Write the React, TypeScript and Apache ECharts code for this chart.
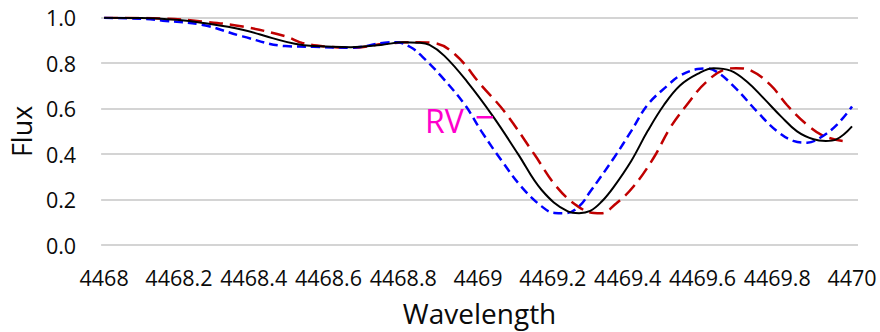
import React, { useEffect, useRef } from "react";
import * as echarts from "echarts";

const xTickValues = [4468, 4468.2, 4468.4, 4468.6, 4468.8, 4469, 4469.2, 4469.4, 4469.6, 4469.8, 4470];
const xTickLabels = ["4468", "4468.2", "4468.4", "4468.6", "4468.8", "4469", "4469.2", "4469.4", "4469.6", "4469.8", "4470"];

const obsWl = [4468.0, 4468.1, 4468.2, 4468.26, 4468.37, 4468.45, 4468.51, 4468.56, 4468.66, 4468.74, 4468.8, 4468.84, 4468.87, 4468.91, 4468.97, 4469.04, 4469.107, 4469.17, 4469.24, 4469.27, 4469.3, 4469.33, 4469.363, 4469.41, 4469.453, 4469.497, 4469.54, 4469.587, 4469.63, 4469.675, 4469.72, 4469.764, 4469.81, 4469.853, 4469.897, 4469.93, 4469.958, 4470.0];
const obsFlux = [1.0, 0.999, 0.99, 0.978, 0.947, 0.91, 0.885, 0.875, 0.87, 0.88, 0.892, 0.89, 0.88, 0.832, 0.72, 0.566, 0.4, 0.242, 0.148, 0.14, 0.15, 0.19, 0.256, 0.371, 0.5, 0.616, 0.702, 0.753, 0.778, 0.767, 0.717, 0.645, 0.566, 0.5, 0.465, 0.458, 0.465, 0.522];

const blueWl = [4468.0, 4468.1, 4468.157, 4468.264, 4468.37, 4468.485, 4468.56, 4468.66, 4468.75, 4468.78, 4468.82, 4468.85, 4468.9, 4468.965, 4469.009, 4469.063, 4469.116, 4469.17, 4469.205, 4469.235, 4469.27, 4469.3, 4469.364, 4469.409, 4469.453, 4469.507, 4469.54, 4469.587, 4469.61, 4469.64, 4469.69, 4469.746, 4469.8, 4469.843, 4469.88, 4469.915, 4469.96, 4470.0];
const blueFlux = [1.0, 0.995, 0.987, 0.968, 0.918, 0.875, 0.872, 0.868, 0.89, 0.892, 0.87, 0.83, 0.745, 0.616, 0.5, 0.371, 0.256, 0.17, 0.141, 0.14, 0.17, 0.235, 0.385, 0.5, 0.616, 0.702, 0.745, 0.774, 0.777, 0.76, 0.688, 0.587, 0.5, 0.458, 0.45, 0.472, 0.53, 0.609];

const redWl = [4468.0, 4468.148, 4468.264, 4468.37, 4468.485, 4468.53, 4468.6, 4468.663, 4468.75, 4468.84, 4468.88, 4468.938, 4469.009, 4469.07, 4469.15, 4469.21, 4469.267, 4469.31, 4469.33, 4469.37, 4469.415, 4469.47, 4469.513, 4469.558, 4469.61, 4469.664, 4469.69, 4469.73, 4469.783, 4469.826, 4469.88, 4469.925, 4469.975];
const redFlux = [1.0, 0.997, 0.983, 0.961, 0.918, 0.889, 0.872, 0.868, 0.885, 0.892, 0.889, 0.839, 0.702, 0.588, 0.4, 0.256, 0.17, 0.141, 0.14, 0.184, 0.256, 0.385, 0.514, 0.616, 0.717, 0.774, 0.778, 0.767, 0.702, 0.616, 0.529, 0.479, 0.458];

const rvLabel = "RV";
const rvTickWl = [4468.996, 4469.04];
const rvTickFlux = 0.562;
const rvTextWl = 4468.962;
const rvTextFlux = 0.548;

const FONT = "'Open Sans', sans-serif";
const TEXT_COLOR = "#0a0a0a";

function zip(a: number[], b: number[]) {
  return a.map((v, i) => [v, b[i]]);
}

export default function App() {
  const ref = useRef<HTMLDivElement>(null);
  useEffect(() => {
    if (!ref.current) return;
    const chart = echarts.init(ref.current, undefined, { renderer: "svg" });
    chart.setOption({
      animation: false,
      backgroundColor: "#ffffff",
      grid: { left: 98, right: 22, top: 17.7, bottom: 82.7, containLabel: false },
      xAxis: {
        type: "value",
        min: 4468 - 3 / 375.5,
        max: 4470 + 6 / 375.5,
        name: "Wavelength",
        nameLocation: "middle",
        nameGap: 54,
        nameTextStyle: { fontFamily: FONT, fontSize: 28, color: TEXT_COLOR },
        axisLine: { show: false },
        axisTick: { show: false },
        splitLine: { show: false },
        axisLabel: {
          customValues: xTickValues,
          fontFamily: FONT,
          fontSize: 21.5,
          color: TEXT_COLOR,
          margin: 21,
          formatter: (v: number) => {
            let best = 0;
            for (let i = 0; i < xTickValues.length; i++) {
              if (Math.abs(xTickValues[i] - v) < Math.abs(xTickValues[best] - v)) best = i;
            }
            return xTickLabels[best];
          },
        },
      },
      yAxis: {
        type: "value",
        min: 0,
        max: 1,
        interval: 0.2,
        name: "Flux",
        nameLocation: "middle",
        nameGap: 62,
        nameTextStyle: { fontFamily: FONT, fontSize: 27, color: TEXT_COLOR },
        axisLine: { show: false },
        axisTick: { show: false },
        splitLine: { show: true, lineStyle: { color: "#d4d4d4", width: 2 } },
        axisLabel: {
          fontFamily: FONT,
          fontSize: 21.5,
          color: TEXT_COLOR,
          margin: 25,
          formatter: (v: number) => v.toFixed(1),
        },
      },
      series: [
        {
          type: "line",
          data: zip(redWl, redFlux),
          smooth: 0.4,
          showSymbol: false,
          lineStyle: { color: "#c00000", width: 2.5, type: [14, 7] },
        },
        {
          type: "line",
          data: zip(blueWl, blueFlux),
          smooth: 0.4,
          showSymbol: false,
          lineStyle: { color: "#0000ff", width: 2.5, type: [9, 5] },
        },
        {
          type: "line",
          data: zip(obsWl, obsFlux),
          smooth: 0.4,
          showSymbol: false,
          lineStyle: { color: "#000000", width: 2 },
        },
      ],
    });
    const p1 = chart.convertToPixel({ gridIndex: 0 }, [rvTickWl[0], rvTickFlux]) as number[];
    const p2 = chart.convertToPixel({ gridIndex: 0 }, [rvTickWl[1], rvTickFlux]) as number[];
    const pt = chart.convertToPixel({ gridIndex: 0 }, [rvTextWl, rvTextFlux]) as number[];
    chart.setOption({
      graphic: [
        {
          type: "line",
          shape: { x1: p1[0], y1: p1[1], x2: p2[0], y2: p2[1] },
          style: { stroke: "#ff00cc", lineWidth: 2.5 },
          z: 10,
        },
        {
          type: "text",
          x: pt[0],
          y: pt[1],
          style: {
            text: rvLabel,
            fill: "#ff00cc",
            font: `32px ${FONT}`,
            textAlign: "right",
            textVerticalAlign: "middle",
          },
          z: 10,
        },
      ],
    });
    return () => chart.dispose();
  }, []);
  return <div ref={ref} style={{ position: "absolute", left: 0, top: 0, width: 880, height: 332 }} />;
}
